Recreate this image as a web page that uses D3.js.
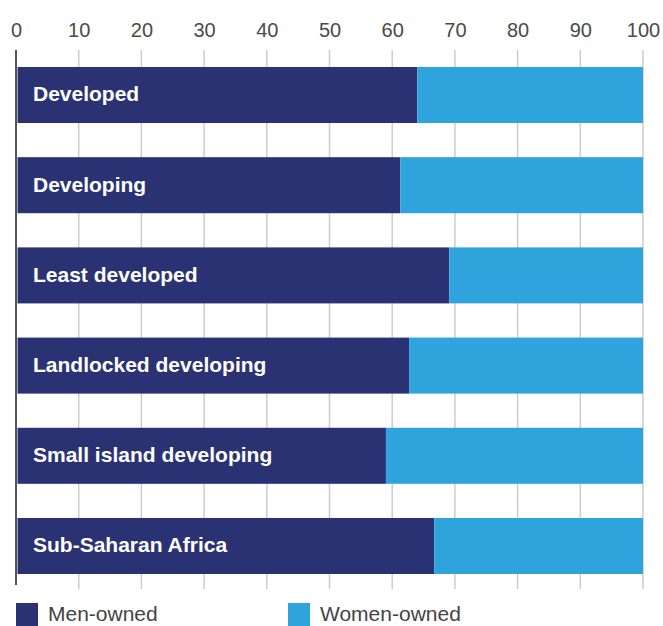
<!DOCTYPE html>
<html>
<head>
<meta charset="utf-8">
<script src="https://cdn.jsdelivr.net/npm/d3@7"></script>
<style>
  html, body { margin: 0; padding: 0; background: #fff; overflow: hidden; }
  svg { display: block; font-family: "Liberation Sans", Arial, Helvetica, sans-serif; }
</style>
</head>
<body>
<svg id="chart" width="663" height="626"></svg>
<script>
// Share of firms by owner gender, per country group (percent)
const categories = ["Developed", "Developing", "Least developed", "Landlocked developing", "Small island developing", "Sub-Saharan Africa"];
const menOwned = [64.0, 61.3, 69.1, 62.7, 59.0, 66.7];
const womenOwned = menOwned.map(v => 100 - v);
const tickValues = [0, 10, 20, 30, 40, 50, 60, 70, 80, 90, 100];
const seriesNames = ["Men-owned", "Women-owned"];
const colors = ["#2a3274", "#2fa3dc"];

const svg = d3.select("#chart");

const x = d3.scaleLinear().domain([0, 100]).range([16, 643]);
const y = d3.scaleBand().domain(categories).range([67, 574]).paddingInner(0.379).paddingOuter(0);

// Vertical gridlines
svg.append("g")
  .selectAll("line")
  .data(tickValues.filter(d => d > 0))
  .join("line")
  .attr("x1", d => x(d)).attr("x2", d => x(d))
  .attr("y1", 50).attr("y2", 589)
  .attr("stroke", "#cccccc").attr("stroke-width", 1.5);

// Top axis tick labels
const axis = d3.axisTop(x).tickValues(tickValues).tickSize(0).tickPadding(0).tickFormat(d3.format("d"));
const gAxis = svg.append("g").attr("transform", "translate(0,37)").call(axis);
gAxis.select(".domain").remove();
gAxis.selectAll("text")
  .attr("font-size", 20)
  .attr("fill", "#4a4a4a")
  .attr("font-family", "Liberation Sans, Arial, sans-serif")
  .attr("dy", 0);

// Stacked bars
const rows = categories.map((c, i) => ({ cat: c, men: menOwned[i], women: womenOwned[i] }));
const stack = d3.stack().keys(["men", "women"])(rows);

svg.append("g")
  .selectAll("g")
  .data(stack)
  .join("g")
  .attr("fill", (d, i) => colors[i])
  .selectAll("rect")
  .data(d => d)
  .join("rect")
  .attr("x", d => x(d[0]) + (d[0] === 0 ? 1.5 : 0))
  .attr("width", d => x(d[1]) - x(d[0]) - (d[0] === 0 ? 1.5 : 0))
  .attr("y", d => y(d.data.cat))
  .attr("height", y.bandwidth());

// Zero baseline
svg.append("line")
  .attr("x1", x(0)).attr("x2", x(0))
  .attr("y1", 50).attr("y2", 585)
  .attr("stroke", "#555555").attr("stroke-width", 2);

// Category labels inside bars
svg.append("g")
  .selectAll("text")
  .data(categories)
  .join("text")
  .attr("x", 33)
  .attr("y", d => y(d) + y.bandwidth() / 2)
  .attr("dy", "0.3em")
  .attr("fill", "#ffffff")
  .attr("font-weight", "bold")
  .attr("font-size", 21)
  .text(d => d);

// Legend
const legend = svg.append("g").attr("transform", "translate(0,603)");
const legendX = [16, 288];
seriesNames.forEach((name, i) => {
  legend.append("rect")
    .attr("x", legendX[i]).attr("y", 0)
    .attr("width", 22).attr("height", 23)
    .attr("fill", colors[i]);
  legend.append("text")
    .attr("x", legendX[i] + 32).attr("y", 18)
    .attr("font-size", 21)
    .attr("fill", "#444444")
    .text(name);
});
</script>
</body>
</html>
